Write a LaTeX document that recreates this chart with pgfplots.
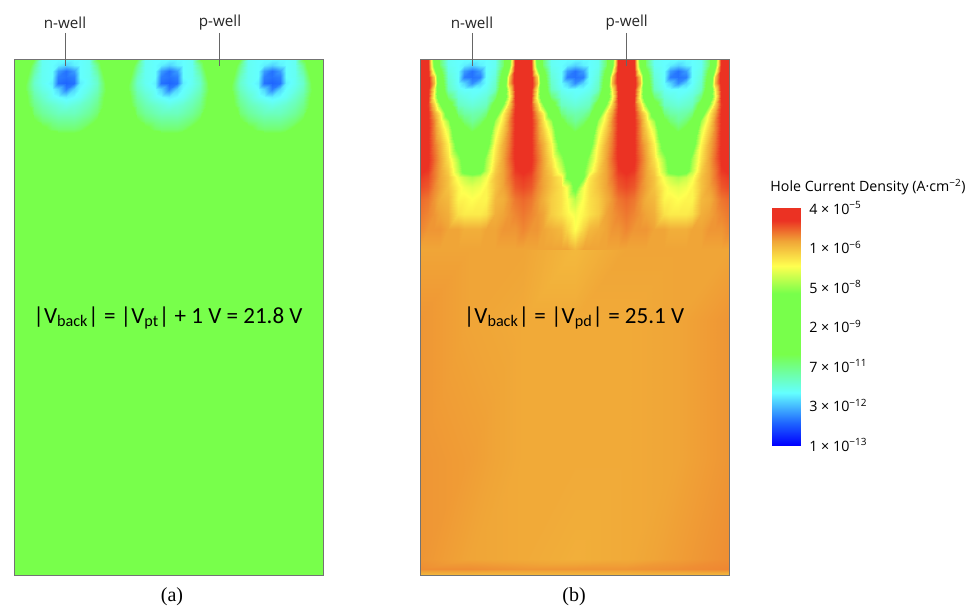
\documentclass[border=0pt]{standalone}
\usepackage{fontspec}
\setmainfont{Open Sans}
\newfontfamily\calib{Carlito}
\newfontfamily\tms{Liberation Serif}
\usepackage{pgfplots}
\pgfplotsset{compat=1.18}
% values are v = -10*log10(J), J in A/cm2: 130 = 1e-13, 44 = 4e-5
\pgfplotsset{colormap={hj}{rgb255(0pt)=(235,50,35); rgb255(4.5pt)=(235,50,35); rgb255(12pt)=(240,165,55); rgb255(21pt)=(255,255,80); rgb255(31pt)=(120,255,75); rgb255(53pt)=(120,255,75); rgb255(67pt)=(100,255,255); rgb255(78pt)=(30,100,255); rgb255(86pt)=(0,0,255)}}
\pgfplotsset{panel/.style={scale only axis,width=231.75pt,height=387pt,xmin=0,xmax=309,ymin=0,ymax=516,y dir=reverse,ticks=none,colormap name=hj,point meta min=44,point meta max=130,axis line style={draw=black!55,line width=0.5pt},anchor=south west,axis on top}}
\newcommand\sub[1]{\textsubscript{#1}}
\newcommand\XX[1]{\ifcase\numexpr#1-43*(((#1)-21)/43)\relax 0\or8\or14\or20\or28\or38\or44\or52\or60\or66\or75\or83\or89\or95\or103\or111\or117\or123\or131\or141\or147\or155\or163\or169\or178\or186\or192\or198\or206\or214\or220\or226\or234\or244\or250\or258\or266\or272\or281\or289\or295\or301\or309\fi}
\newcommand\YY[1]{\ifcase\numexpr((#1)-21)/43\relax 0\or6\or12\or18\or24\or30\or38\or46\or54\or62\or70\or85\or100\or112\or118\or128\or140\or155\or170\or190\fi}
\newcommand\YA[1]{\ifcase\numexpr((#1)-21)/43\relax 0\or6\or12\or18\or24\or30\or38\or46\or54\or62\or70\or80\fi}
\begin{document}
\begin{tikzpicture}
\path[use as bounding box] (0,0) rectangle (730.5pt,455.25pt);
\begin{axis}[panel,at={(10.5pt,24pt)}]
\addplot[surf,shader=interp,mesh/cols=2,point meta=explicit] table[row sep=\\,x=x,y=y,meta=m]{x y m\\0 80 87\\309 80 87\\0 516 87\\309 516 87\\};
\addplot[surf,shader=interp,mesh/cols=43,point meta=explicit] table[row sep=\\,header=false,meta index=0,x expr={\XX{\coordindex}},y expr={\YA{\coordindex}}]{
87\\87\\92\\97\\110\\111\\111\\111\\111\\111\\110\\97\\92\\87\\87\\87\\92\\97\\110\\111\\111\\111\\111\\111\\110\\97\\92\\87\\87\\87\\92\\97\\110\\111\\111\\111\\111\\111\\110\\97\\92\\87\\87\\
87\\87\\93\\102\\110\\111\\112\\114\\112\\111\\110\\102\\93\\87\\87\\87\\93\\102\\110\\111\\112\\114\\112\\111\\110\\102\\93\\87\\87\\87\\93\\102\\110\\111\\112\\114\\112\\111\\110\\102\\93\\87\\87\\
87\\87\\96\\104\\110\\111\\118\\121\\118\\111\\110\\104\\96\\87\\87\\87\\96\\104\\110\\111\\118\\121\\118\\111\\110\\104\\96\\87\\87\\87\\96\\104\\110\\111\\118\\121\\118\\111\\110\\104\\96\\87\\87\\
87\\90\\98\\106\\110\\111\\120\\121\\120\\111\\110\\106\\98\\90\\87\\90\\98\\106\\110\\111\\120\\121\\120\\111\\110\\106\\98\\90\\87\\90\\98\\106\\110\\111\\120\\121\\120\\111\\110\\106\\98\\90\\87\\
87\\92\\100\\107\\110\\112\\121\\122\\121\\112\\110\\107\\100\\92\\87\\92\\100\\107\\110\\112\\121\\122\\121\\112\\110\\107\\100\\92\\87\\92\\100\\107\\110\\112\\121\\122\\121\\112\\110\\107\\100\\92\\87\\
87\\94\\100\\106\\109\\111\\114\\120\\114\\111\\109\\106\\100\\94\\87\\94\\100\\106\\109\\111\\114\\120\\114\\111\\109\\106\\100\\94\\87\\94\\100\\106\\109\\111\\114\\120\\114\\111\\109\\106\\100\\94\\87\\
87\\91\\98\\104\\107\\110\\111\\112\\111\\110\\107\\104\\98\\91\\87\\91\\98\\104\\107\\110\\111\\112\\111\\110\\107\\104\\98\\91\\87\\91\\98\\104\\107\\110\\111\\112\\111\\110\\107\\104\\98\\91\\87\\
87\\90\\97\\102\\105\\107\\108\\109\\108\\107\\105\\102\\97\\90\\87\\90\\97\\102\\105\\107\\108\\109\\108\\107\\105\\102\\97\\90\\87\\90\\97\\102\\105\\107\\108\\109\\108\\107\\105\\102\\97\\90\\87\\
87\\87\\92\\100\\103\\105\\106\\106\\106\\105\\103\\100\\92\\87\\87\\87\\92\\100\\103\\105\\106\\106\\106\\105\\103\\100\\92\\87\\87\\87\\92\\100\\103\\105\\106\\106\\106\\105\\103\\100\\92\\87\\87\\
87\\87\\87\\96\\100\\102\\103\\103\\103\\102\\100\\96\\87\\87\\87\\87\\87\\96\\100\\102\\103\\103\\103\\102\\100\\96\\87\\87\\87\\87\\87\\96\\100\\102\\103\\103\\103\\102\\100\\96\\87\\87\\87\\
87\\87\\87\\87\\95\\99\\100\\100\\100\\99\\95\\87\\87\\87\\87\\87\\87\\87\\95\\99\\100\\100\\100\\99\\95\\87\\87\\87\\87\\87\\87\\87\\95\\99\\100\\100\\100\\99\\95\\87\\87\\87\\87\\
87\\87\\87\\87\\87\\87\\92\\92\\92\\87\\87\\87\\87\\87\\87\\87\\87\\87\\87\\87\\92\\92\\92\\87\\87\\87\\87\\87\\87\\87\\87\\87\\87\\87\\92\\92\\92\\87\\87\\87\\87\\87\\87\\
};
\end{axis}
\begin{axis}[panel,at={(315pt,24pt)}]
\addplot[surf,shader=interp,mesh/cols=7,point meta=explicit] table[row sep=\\,x=x,y=y,meta=m]{x y m\\
0 190 56\\50 190 56\\103 190 56\\155 190 58\\206 190 56\\258 190 56\\309 190 56\\
0 260 55\\50 260 56\\103 260 56.5\\155 260 56.5\\206 260 56.5\\258 260 56\\309 260 55\\
0 400 55\\50 400 55.5\\103 400 56.5\\155 400 56.5\\206 400 56.5\\258 400 56\\309 400 55\\
0 500 55\\50 500 56\\103 500 56.5\\155 500 57\\206 500 56.5\\258 500 55.5\\309 500 54.5\\
0 510 54.5\\50 510 54.5\\103 510 55\\155 510 55\\206 510 55\\258 510 54.5\\309 510 54\\
0 516 58\\50 516 58\\103 516 58\\155 516 58\\206 516 58\\258 516 58\\309 516 58\\
};
\addplot[surf,shader=interp,mesh/cols=43,point meta=explicit] table[row sep=\\,header=false,meta index=0,x expr={\XX{\coordindex}},y expr={\YY{\coordindex}}]{
47\\47\\80\\100\\110\\111\\111\\111\\111\\111\\110\\100\\80\\47\\47\\47\\80\\100\\110\\111\\111\\111\\111\\111\\110\\100\\80\\47\\47\\47\\80\\100\\110\\111\\111\\111\\111\\111\\110\\100\\80\\47\\47\\
47\\47\\78\\100\\110\\111\\112\\114\\112\\111\\110\\100\\78\\47\\47\\47\\78\\100\\110\\111\\112\\114\\112\\111\\110\\100\\78\\47\\47\\47\\78\\100\\110\\111\\112\\114\\112\\111\\110\\100\\78\\47\\47\\
47\\46\\70\\95\\109\\111\\118\\121\\118\\111\\109\\95\\70\\46\\47\\46\\70\\95\\109\\111\\118\\121\\118\\111\\109\\95\\70\\46\\47\\46\\70\\95\\109\\111\\118\\121\\118\\111\\109\\95\\70\\46\\47\\
47\\46\\60\\92\\108\\111\\120\\121\\120\\111\\108\\92\\60\\46\\47\\46\\60\\92\\108\\111\\120\\121\\120\\111\\108\\92\\60\\46\\47\\46\\60\\92\\108\\111\\120\\121\\120\\111\\108\\92\\60\\46\\47\\
47\\46\\58\\90\\107\\111\\114\\119\\114\\111\\107\\90\\58\\46\\47\\46\\58\\90\\107\\111\\114\\119\\114\\111\\107\\90\\58\\46\\47\\46\\58\\90\\107\\111\\114\\119\\114\\111\\107\\90\\58\\46\\47\\
47\\47\\64\\88\\106\\110\\111\\111\\111\\110\\106\\88\\64\\47\\47\\47\\64\\88\\106\\110\\111\\111\\111\\110\\106\\88\\64\\47\\47\\47\\64\\88\\106\\110\\111\\111\\111\\110\\106\\88\\64\\47\\47\\
47\\48\\66\\84\\100\\108\\109\\110\\109\\108\\100\\84\\66\\48\\47\\48\\66\\84\\100\\108\\109\\110\\109\\108\\100\\84\\66\\48\\47\\48\\66\\84\\100\\108\\109\\110\\109\\108\\100\\84\\66\\48\\47\\
47\\49\\60\\74\\92\\106\\107\\108\\107\\106\\92\\74\\60\\49\\47\\49\\60\\74\\92\\106\\107\\108\\107\\106\\92\\74\\60\\49\\47\\49\\60\\74\\92\\106\\107\\108\\107\\106\\92\\74\\60\\49\\47\\
47\\48\\56\\64\\82\\101\\104\\105\\104\\101\\82\\64\\56\\48\\47\\48\\56\\64\\82\\101\\104\\105\\104\\101\\82\\64\\56\\48\\47\\48\\56\\64\\82\\101\\104\\105\\104\\101\\82\\64\\56\\48\\47\\
47\\48\\54\\62\\72\\95\\100\\103\\100\\95\\72\\62\\54\\48\\47\\48\\54\\62\\72\\95\\100\\103\\100\\95\\72\\62\\54\\48\\47\\48\\54\\62\\72\\95\\100\\103\\100\\95\\72\\62\\54\\48\\47\\
47\\48\\54\\60\\68\\88\\95\\99\\95\\88\\68\\60\\54\\48\\47\\48\\54\\60\\68\\88\\95\\99\\95\\88\\68\\60\\54\\48\\47\\48\\54\\60\\68\\88\\95\\99\\95\\88\\68\\60\\54\\48\\47\\
47\\48\\53\\57\\64\\80\\85\\87\\85\\80\\64\\57\\53\\48\\47\\48\\53\\57\\64\\80\\85\\87\\85\\80\\64\\57\\53\\48\\47\\48\\53\\57\\64\\80\\85\\87\\85\\80\\64\\57\\53\\48\\47\\
47\\48\\52\\56\\62\\72\\80\\84\\80\\72\\62\\56\\52\\48\\47\\48\\52\\56\\62\\72\\80\\84\\80\\72\\62\\56\\52\\48\\47\\48\\52\\56\\62\\72\\80\\84\\80\\72\\62\\56\\52\\48\\47\\
48\\49\\53\\56\\60\\70\\78\\80\\78\\70\\60\\56\\53\\49\\48\\49\\53\\56\\60\\68\\76\\82\\76\\68\\60\\56\\53\\49\\48\\49\\53\\56\\60\\70\\78\\80\\78\\70\\60\\56\\53\\49\\48\\
49\\50\\53\\56\\59\\66\\69\\71\\69\\66\\59\\56\\53\\50\\49\\50\\53\\56\\59\\63\\76\\82\\76\\63\\59\\56\\53\\50\\49\\50\\53\\56\\59\\66\\69\\71\\69\\66\\59\\56\\53\\50\\49\\
50\\51\\54\\56\\59\\64\\66\\67\\66\\64\\59\\56\\54\\51\\50\\51\\54\\56\\59\\62\\66\\78\\66\\62\\59\\56\\54\\51\\50\\51\\54\\56\\59\\64\\66\\67\\66\\64\\59\\56\\54\\51\\50\\
52\\53\\55\\57\\58\\64\\64\\65\\64\\64\\58\\57\\55\\53\\52\\53\\55\\57\\60\\62\\65\\70\\65\\62\\60\\57\\55\\53\\52\\53\\55\\57\\58\\64\\64\\65\\64\\64\\58\\57\\55\\53\\52\\
53\\54\\55\\56\\57\\62\\63\\63\\63\\62\\57\\56\\55\\54\\53\\54\\55\\56\\60\\62\\64\\66\\64\\62\\60\\56\\55\\54\\53\\54\\55\\56\\57\\62\\63\\63\\63\\62\\57\\56\\55\\54\\53\\
54\\55\\55\\55\\56\\56\\57\\57\\57\\56\\56\\55\\55\\55\\54\\55\\55\\56\\57\\58\\61\\65\\61\\58\\57\\56\\55\\55\\54\\55\\55\\55\\56\\56\\57\\57\\57\\56\\56\\55\\55\\55\\54\\
56\\56\\56\\56\\56\\56\\56\\56\\56\\56\\56\\56\\56\\56\\56\\56\\56\\56\\56\\56\\56\\58\\56\\56\\56\\56\\56\\56\\56\\56\\56\\56\\56\\56\\56\\56\\56\\56\\56\\56\\56\\56\\56\\
};
\end{axis}
\begin{axis}[scale only axis,at={(579pt,121.5pt)},anchor=south west,width=21pt,height=177.75pt,xmin=0,xmax=1,ymin=44,ymax=130,y dir=reverse,colormap name=hj,point meta min=44,point meta max=130,axis line style={draw=none},xtick=\empty,major tick length=0pt,ytick={44,58.33,72.67,87,101.33,115.67,130},yticklabels={4 × 10\textsuperscript{−5},1 × 10\textsuperscript{−6},5 × 10\textsuperscript{−8},2 × 10\textsuperscript{−9},7 × 10\textsuperscript{−11},3 × 10\textsuperscript{−12},1 × 10\textsuperscript{−13}},ticklabel pos=right,yticklabel style={font=\fontsize{10.7}{11}\selectfont,anchor=west,xshift=3.5pt}]
\addplot[surf,shader=interp,mesh/cols=2,point meta=explicit] table[row sep=\\,x=x,y=y,meta=m]{x y m\\0 44 44\\1 44 44\\0 130 130\\1 130 130\\};
\end{axis}
\tikzset{wl/.style={font=\fontsize{11.4}{12}\selectfont,text=black!85},ld/.style={draw=black!60,line width=0.5pt}}
\node[wl] at (48.75pt,438.5pt) {n-well};
\node[wl] at (165pt,438.5pt) {p-well};
\node[wl] at (354pt,438.5pt) {n-well};
\node[wl] at (470pt,438.5pt) {p-well};
\draw[ld] (49.1pt,430.5pt) -- (49.1pt,405.5pt);
\draw[ld] (164.2pt,430.5pt) -- (164.2pt,405.5pt);
\draw[ld] (354pt,430.5pt) -- (354pt,405.5pt);
\draw[ld] (469.5pt,430.5pt) -- (469.5pt,405.5pt);
\node[font=\calib\fontsize{17.3}{20}\selectfont] at (126pt,216.75pt) {|V\sub{back}| = |V\sub{pt}| + 1 V = 21.8 V};
\node[font=\calib\fontsize{17.3}{20}\selectfont] at (430.5pt,216.75pt) {|V\sub{back}| = |V\sub{pd}| = 25.1 V};
\node[font=\fontsize{10.65}{11}\selectfont] at (651pt,314.75pt) {Hole Current Density (A·cm\textsuperscript{−2})};
\node[font=\tms\fontsize{15}{16}\selectfont] at (129pt,8pt) {(a)};
\node[font=\tms\fontsize{15}{16}\selectfont] at (430.5pt,8pt) {(b)};
\end{tikzpicture}
\end{document}
